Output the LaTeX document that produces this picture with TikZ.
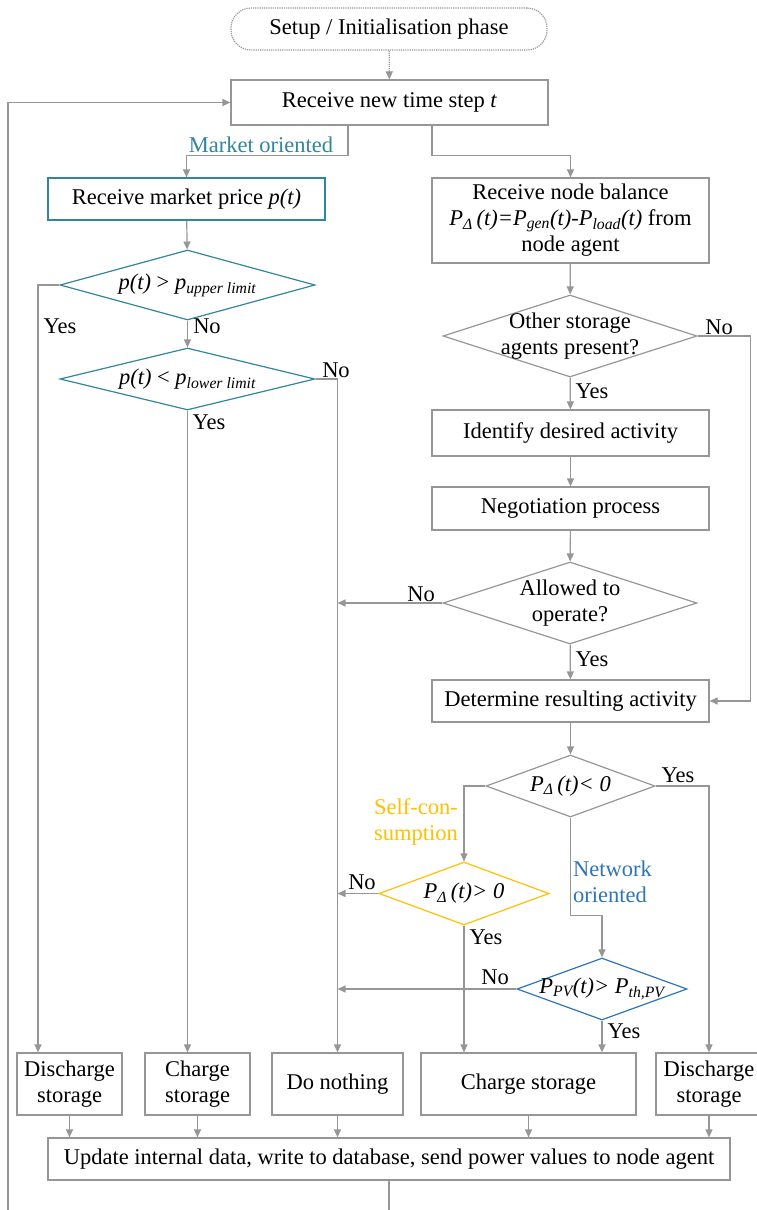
\documentclass[tikz,border=0pt]{standalone}
\usepackage{fontspec}
\setmainfont{Liberation Serif}
\usetikzlibrary{shapes.geometric,arrows.meta}

\definecolor{linegray}{RGB}{150,150,150}
\definecolor{marketcol}{RGB}{49,133,156}
\definecolor{selfcol}{RGB}{255,192,0}
\definecolor{netcol}{RGB}{46,117,182}

\newcommand{\pdel}{P\textsubscript{\itshape Δ}\,(t)}

\tikzset{
  box/.style={draw=linegray, line width=1.2pt, rectangle, align=center, inner sep=2pt},
  dia/.style={draw=linegray, line width=1.2pt, diamond, inner sep=0pt},
  flow/.style={draw=linegray, line width=1.2pt, -{Triangle[length=8pt,width=7pt]}},
  lbl/.style={inner sep=0pt},
}

\begin{document}
\begin{tikzpicture}[x=1pt, y=-1pt, font=\fontsize{22.5}{26}\selectfont]
		%%%%% START %%%%%
		\useasboundingbox (0,0) rectangle (756,1210);
		
		% start and time step
		\node[box, rounded corners=20pt, densely dotted, minimum width=316, minimum height=42] (setup) at (389,29) {Setup / Initialisation phase};
		\node[box, minimum width=317, minimum height=45] (recv) at (389.5,102.5) {Receive new time step \textit{t}};
		\draw[flow, densely dotted] (setup) -- (recv);
		
		% market branch
		\node[box, draw=marketcol, minimum width=277, minimum height=42] (mkt) at (186.5,199) {Receive market price \textit{p(t)}};
		\node[dia, draw=marketcol, minimum width=255, minimum height=70, label={center:\textit{p(t)} > \textit{p}\textsubscript{\itshape upper limit}}] (d1) at (187.5,285) {};
		\node[dia, draw=marketcol, minimum width=255, minimum height=62, label={center:\textit{p(t)} < \textit{p}\textsubscript{\itshape lower limit}}] (d2) at (187.5,379) {};
		\node[lbl, text=marketcol] (mktlbl) at (261,145) {Market oriented};
		
		% node balance branch
		\node[box, minimum width=277, minimum height=85] (bal) at (570.5,220.5) {Receive node balance\\\textit{\pdel=P\textsubscript{gen}(t)-P\textsubscript{load}(t)} from\\node agent};
		\node[dia, minimum width=254, minimum height=82, label={[align=center]center:Other storage\\agents present?}] (d3) at (570,336) {};
		\node[box, minimum width=277, minimum height=46] (ident) at (570.5,433) {Identify desired activity};
		\node[box, minimum width=277, minimum height=43] (nego) at (570.5,508.5) {Negotiation process};
		\node[dia, minimum width=254, minimum height=82, label={[align=center]center:Allowed to\\operate?}] (d4) at (570,603) {};
		\node[box, minimum width=277, minimum height=42] (det) at (570.5,701) {Determine resulting activity};
		\node[dia, minimum width=169, minimum height=62, label={center:\textit{\pdel< 0}}] (d5) at (570.5,786) {};
		\node[dia, draw=selfcol, minimum width=170, minimum height=63, label={center:\textit{\pdel> 0}}] (d6) at (464,893.5) {};
		\node[dia, draw=netcol, minimum width=170, minimum height=62, label={center:\textit{P\textsubscript{PV}(t)> P\textsubscript{th,PV}}}] (d7) at (602,989) {};
		\node[lbl, text=selfcol, align=left, anchor=west] (selflbl) at (374,822) {Self-con-\\sumption};
		\node[lbl, text=netcol, align=left, anchor=west] (netlbl) at (573,882) {Network\\oriented};
		
		% actions
		\node[box, minimum width=105, minimum height=62] (dis1) at (69.5,1084) {Discharge\\storage};
		\node[box, minimum width=105, minimum height=62] (chg1) at (197.5,1084) {Charge\\storage};
		\node[box, minimum width=131, minimum height=62] (none) at (337.5,1084) {Do nothing};
		\node[box, minimum width=215, minimum height=62] (chg2) at (528.5,1084) {Charge storage};
		\node[box, minimum width=106, minimum height=62] (dis2) at (709,1084) {Discharge\\storage};
		\node[box, minimum width=682, minimum height=42] (upd) at (389,1159) {Update internal data, write to database, send power values to node agent};
		\coordinate (loopcorner) at (8,1240);
		
		% connectors
		\draw[flow] ([xshift=-41.5pt]recv.south) -- ++(0,30) -| (mkt.north);
		\draw[flow] ([xshift=42.5pt]recv.south) -- ++(0,30) -| (bal.north);
		\draw[flow] (mkt) -- (d1);
		\draw[flow] (d1) -- (d2);
		\draw[flow] (d1.west) -| ([xshift=-31.5pt]dis1.north);
		\draw[flow] (d2.south) -- (d2.south |- chg1.north);
		\draw[flow] (d2.east) -| (none.north);
		
		\draw[flow] (bal) -- (d3);
		\draw[flow] (d3) -- (ident);
		\draw[flow] (d3.east) -- ++(53,0) |- (det.east);
		\draw[flow] (ident) -- (nego);
		\draw[flow] (nego) -- (d4);
		\draw[flow] (d4) -- (det);
		\draw[flow] (d4.west) -- (d4.west -| none.north);
		\draw[flow] (det) -- (d5);
		\draw[flow] (d5.east) -| (dis2.north);
		\draw[flow] (d5.west) -| (d6.north);
		\draw[flow] (d5.south) -- ++(0,98) -| (d7.north);
		\draw[flow] (d6.west) -- (d6.west -| none.north);
		\draw[flow] (d6.south) -- (d6.south |- chg2.north);
		\draw[flow] (d7.west) -- (d7.west -| none.north);
		\draw[flow] (d7.south) -- (d7.south |- chg2.north);
		
		\draw[flow] (dis1) -- (dis1 |- upd.north);
		\draw[flow] (chg1) -- (chg1 |- upd.north);
		\draw[flow] (none) -- (none |- upd.north);
		\draw[flow] (chg2) -- (chg2 |- upd.north);
		\draw[flow] (dis2) -- (dis2 |- upd.north);
		\draw[flow] (upd.south) |- (loopcorner) |- (recv.west);
		
		% yes / no
		\node[lbl] (y1) at (60,326) {Yes};
		\node[lbl] (n1) at (207,326) {No};
		\node[lbl] (n2) at (336,370) {No};
		\node[lbl] (y2) at (209,422) {Yes};
		\node[lbl] (n3) at (719,327) {No};
		\node[lbl] (y3) at (592,391) {Yes};
		\node[lbl] (n4) at (421,594) {No};
		\node[lbl] (y4) at (592,659) {Yes};
		\node[lbl] (y5) at (678,775) {Yes};
		\node[lbl] (n6) at (362,882) {No};
		\node[lbl] (y6) at (486,937) {Yes};
		\node[lbl] (n7) at (495,977) {No};
		\node[lbl] (y7) at (624,1031) {Yes};
		
		%%%%% END %%%%%
	\end{tikzpicture}
\end{document}
